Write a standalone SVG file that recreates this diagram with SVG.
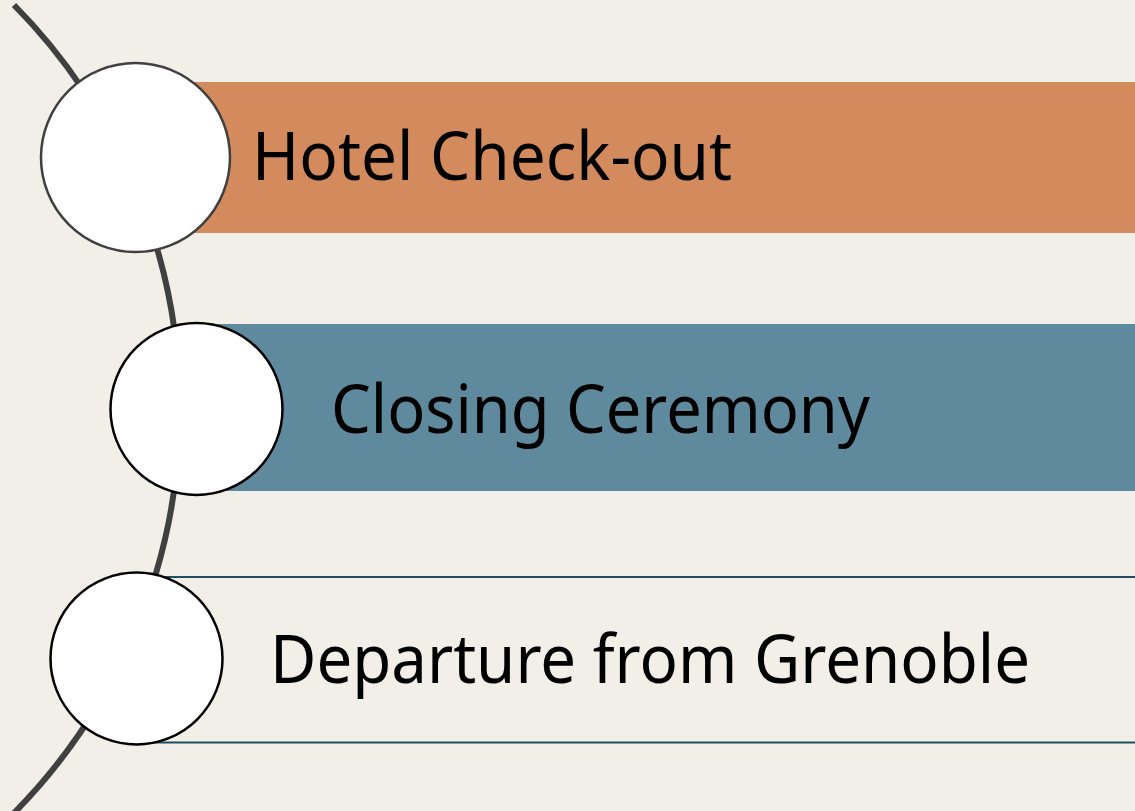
<svg xmlns="http://www.w3.org/2000/svg" width="1135" height="811" viewBox="0 0 1135 811">
<style>
.lbl{font-family:"Noto Sans","Open Sans","Liberation Sans",sans-serif;font-size:68px;fill:#000}
.dot{fill:#fff;stroke-width:2.5}
</style>
<rect width="1135" height="811" fill="#F2EEE8"/>
<g id="connectors">
<path d="M 14 5 A 575 575 0 0 1 14 813" fill="none" stroke="#404040" stroke-width="6"/>
</g>
<g id="node1">
<rect x="135" y="82" width="1000" height="151" fill="#D38B5D"/>
<circle class="dot" cx="135.5" cy="157.5" r="94.5" stroke="#404040"/>
<text class="lbl" x="252" y="180" textLength="480" lengthAdjust="spacingAndGlyphs">Hotel Check-out</text>
</g>
<g id="node2">
<rect x="196" y="324" width="939" height="167" fill="#5F8A9E"/>
<circle class="dot" cx="196.5" cy="409" r="86" stroke="#000"/>
<text class="lbl" x="331" y="433" textLength="539" lengthAdjust="spacingAndGlyphs">Closing Ceremony</text>
</g>
<g id="node3">
<line x1="136" y1="577" x2="1135" y2="577" stroke="#1F4E60" stroke-width="2"/>
<line x1="136" y1="742.5" x2="1135" y2="742.5" stroke="#1F4E60" stroke-width="2"/>
<circle class="dot" cx="136.5" cy="658.5" r="86" stroke="#000"/>
<text class="lbl" x="270" y="683" textLength="760" lengthAdjust="spacingAndGlyphs">Departure from Grenoble</text>
</g>
</svg>
